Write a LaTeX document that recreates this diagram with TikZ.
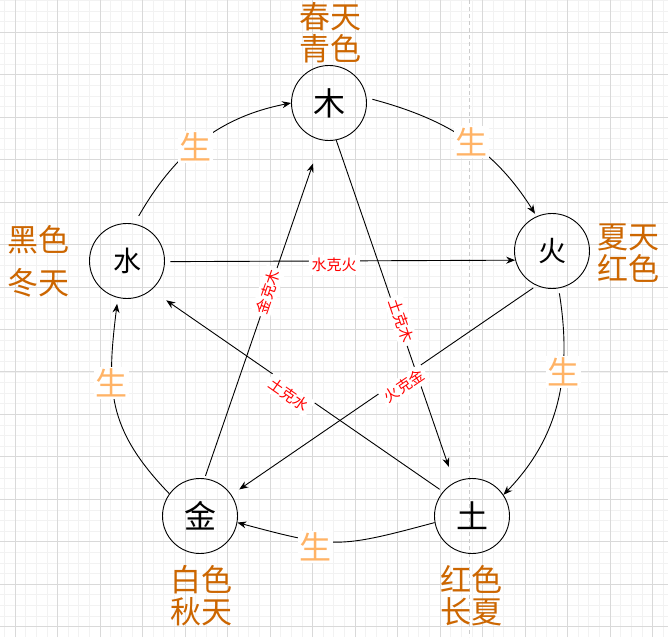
\documentclass[tikz,border=0pt]{standalone}
\usepackage{fontspec}
\newfontfamily\cjk{Noto Sans CJK SC}
\usetikzlibrary{arrows.meta}
\definecolor{seasonc}{HTML}{CC6600}
\definecolor{shengc}{HTML}{FFB366}
\begin{document}
\begin{tikzpicture}[x=1pt,y=1pt,
  minorgrid/.style={line width=0.6pt, draw=black!5},
  majorgrid/.style={line width=0.8pt, draw=black!15},
  guide/.style={line width=1.2pt, draw=black!20, dash pattern=on 4pt off 3pt},
  wx/.style={circle, draw, line width=0.9pt, minimum size=75pt, inner sep=0pt, font=\cjk\fontsize{32}{32}\selectfont},
  wxs/.style={wx, font=\cjk\fontsize{28}{28}\selectfont},
  season/.style={text=seasonc, align=center, inner sep=0pt, font=\cjk\fontsize{31}{32}\selectfont},
  sheng/.style={text=shengc, fill=white, inner sep=1.5pt, font=\cjk\fontsize{32}{32}\selectfont},
  ke/.style={text=red, fill=white, inner sep=3pt, font=\cjk\fontsize{15}{15}\selectfont},
  arr/.style={-{Stealth[length=9pt,width=7pt]}, line width=0.9pt}]
\useasboundingbox (0,0) rectangle (668,637);
\fill[white] (0,0) rectangle (668,637);
% grid
\foreach \k in {0,...,62} \draw[minorgrid] ({4.375+\k*10.625},0) -- ({4.375+\k*10.625},637);
\foreach \k in {0,...,59} \draw[minorgrid] (0,{636.54-\k*10.6125}) -- (668,{636.54-\k*10.6125});
\foreach \k in {0,...,15} \draw[majorgrid] ({15+\k*42.5},0) -- ({15+\k*42.5},637);
\foreach \k in {0,...,14} \draw[majorgrid] (0,{604.7-\k*42.45}) -- (668,{604.7-\k*42.45});
\draw[guide] (469.3,637) -- (469.3,0);
% elements
\node[wx]  (mu)   at (329,534) {木};
\node[wxs] (huo)  at (552,386) {火};
\node[wx]  (tu)   at (472,121) {土};
\node[wx]  (jin)  at (200,121) {金};
\node[wxs] (shui) at (127,376) {水};
% seasons
\node[season] (lmu)   at (330,604)   {春天\\青色};
\node[season] (lhuo)  at (628,383.75) {夏天\\红色};
\node[season] (lshui) at (38.5,375.5) {黑色\\[11pt]冬天};
\node[season] (ljin)  at (201,41.5)  {白色\\秋天};
\node[season] (ltu)   at (471,41.5)  {红色\\长夏};
% ke (straight)
\draw[arr, shorten <=4pt, shorten >=9.4pt] (huo.246) -- (jin.34);
\draw[arr, shorten >=16.6pt] (mu.281) -- (tu.118);
\draw[arr, shorten <=4pt, shorten >=18pt] (tu.140) -- (shui.310);
\draw[arr, shorten <=2.5pt, shorten >=24.7pt] (jin.83) -- (mu.258);
\draw[arr, shorten <=5.5pt] (shui.359) -- (huo.194);
% sheng (curved)
\draw[arr, shorten <=9pt] (shui.79) to[out=60,in=191] (mu.180);
\draw[arr, shorten <=6pt, shorten >=3pt] (mu.8) to[out=-15,in=122] (huo.114);
\draw[arr, shorten <=5pt] (huo.280) to[out=-81,in=46] (tu.34);
\draw[arr] (tu.190) to[out=-165,in=-15,looseness=1.3] (jin.350);
\draw[arr, shorten >=6pt] (jin.144) to[out=134,in=263,looseness=1.15] (shui.256);
% labels
\node[ke] (k1) at (334,372) {水克火};
\node[ke, rotate=71] (k2) at (268,345) {金克木};
\node[ke, rotate=-71] (k3) at (401,316) {土克木};
\node[ke, rotate=34] (k4) at (404,251) {火克金};
\node[ke, rotate=-35] (k5) at (289,242) {土克水};
\node[sheng] (s1) at (195,490) {生};
\node[sheng] (s2) at (471,495) {生};
\node[sheng] (s3) at (563,265) {生};
\node[sheng] (s4) at (315,90) {生};
\node[sheng] (s5) at (111,254) {生};
\end{tikzpicture}
\end{document}
